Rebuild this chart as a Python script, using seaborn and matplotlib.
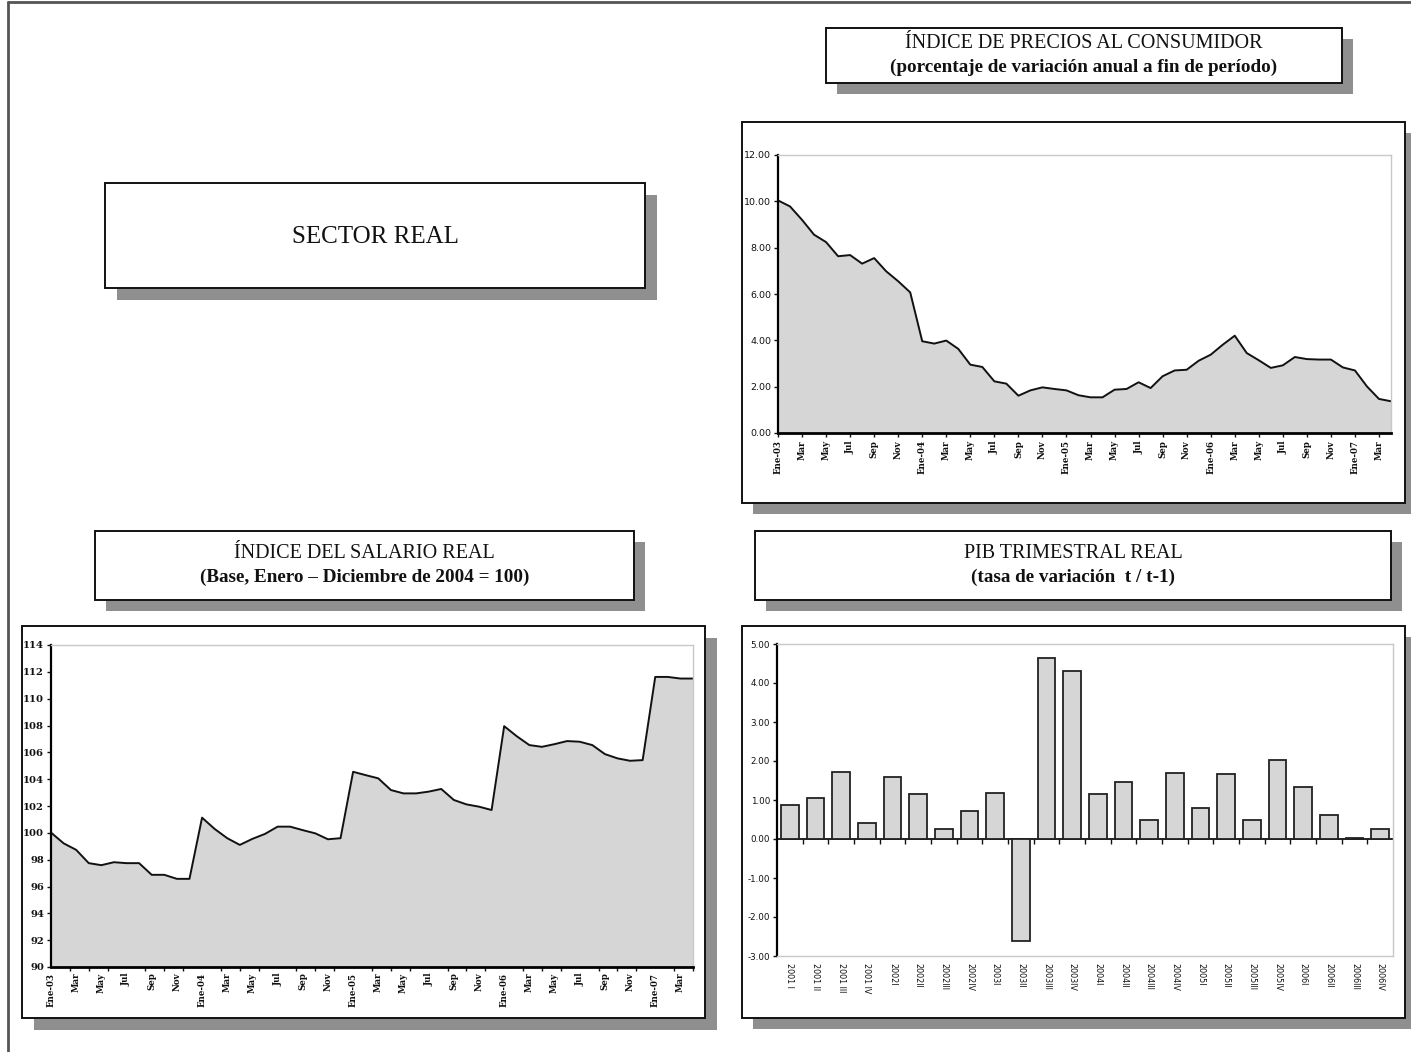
import numpy as np
import pandas as pd
import matplotlib
matplotlib.use("Agg")
import matplotlib.pyplot as plt
from matplotlib.patches import Rectangle
from matplotlib.lines import Line2D
from matplotlib.ticker import FormatStrFormatter
import seaborn as sns

W, H = 1411, 1052

# Monthly series, Jan 2003 - Apr 2007
ipc_variacion = [
    10.04, 9.78, 9.20, 8.56, 8.24, 7.63, 7.68, 7.31, 7.55, 6.98, 6.55, 6.07,
    3.96, 3.86, 3.99, 3.63, 2.95, 2.85, 2.23, 2.13, 1.61, 1.84, 1.97, 1.90,
    1.84, 1.63, 1.54, 1.54, 1.87, 1.90, 2.19, 1.94, 2.45, 2.70, 2.73, 3.12,
    3.38, 3.81, 4.20, 3.45, 3.14, 2.81, 2.92, 3.28, 3.19, 3.17, 3.17, 2.83,
    2.70, 2.01, 1.47, 1.37,
]
salario_real = [
    100.02, 99.22, 98.73, 97.74, 97.59, 97.81, 97.74, 97.74, 96.87, 96.87, 96.57, 96.57,
    101.13, 100.29, 99.60, 99.10, 99.55, 99.92, 100.46, 100.46, 100.20, 99.96, 99.52, 99.60,
    104.55, 104.30, 104.06, 103.19, 102.94, 102.94, 103.07, 103.27, 102.45, 102.12, 101.95, 101.70,
    107.95, 107.20, 106.54, 106.41, 106.61, 106.84, 106.79, 106.54, 105.87, 105.55, 105.37, 105.42,
    111.62, 111.62, 111.50, 111.50,
]
meses = ["Ene", "Feb", "Mar", "Abr", "May", "Jun", "Jul", "Ago", "Sep", "Oct", "Nov", "Dic"]
anio_inicial = 2003

# Quarterly real GDP, t / t-1
pib_trimestres = [
    "2001 I", "2001 II", "2001 III", "2001 IV", "2002I", "2002II", "2002III", "2002IV",
    "2003I", "2003II", "2003III", "2003IV", "2004I", "2004II", "2004III", "2004IV",
    "2005I", "2005II", "2005III", "2005IV", "2006I", "2006II", "2006III", "2006IV",
]
pib_variacion = [
    0.86, 1.05, 1.73, 0.40, 1.58, 1.15, 0.25, 0.72, 1.19, -2.62, 4.65, 4.30,
    1.16, 1.45, 0.50, 1.70, 0.80, 1.66, 0.50, 2.02, 1.33, 0.62, 0.03, 0.25,
]

titulo_portada = "SECTOR REAL"
titulo_ipc = ("ÍNDICE DE PRECIOS AL CONSUMIDOR", "(porcentaje de variación anual a fin de período)")
titulo_salario = ("ÍNDICE DEL SALARIO REAL", "(Base, Enero \u2013 Diciembre de 2004 = 100)")
titulo_pib = ("PIB TRIMESTRAL REAL", "(tasa de variación  t / t-1)")

FILL = "#d6d6d6"
SHADOW = "#8f8f8f"
LIGHT = "#c8c8c8"
SERIF = "Liberation Serif"

sns.set_theme(style="ticks")
plt.rcParams["font.family"] = ["DejaVu Sans"]

fig = plt.figure(figsize=(W / 100, H / 100), dpi=100)
fig.patch.set_facecolor("white")


def fig_rect(x0, y0, x1, y1):
    return (x0 / W, 1 - y1 / H), (x1 - x0) / W, (y1 - y0) / H


def framed_box(x0, y0, x1, y1, off=12, lw=1.4):
    (bx, by), bw, bh = fig_rect(x0 + off, y0 + off, x1 + off, y1 + off)
    fig.add_artist(Rectangle((bx, by), bw, bh, transform=fig.transFigure,
                             facecolor=SHADOW, edgecolor="none", zorder=-3))
    (bx, by), bw, bh = fig_rect(x0, y0, x1, y1)
    fig.add_artist(Rectangle((bx, by), bw, bh, transform=fig.transFigure,
                             facecolor="white", edgecolor="#111111", lw=lw, zorder=-2))


def title_box(x0, y0, x1, y1, lines):
    framed_box(x0, y0, x1, y1, off=11)
    cx = (x0 + x1) / 2 / W
    cy = 1 - (y0 + y1) / 2 / H
    fig.text(cx, cy + 11.5 / H, lines[0], ha="center", va="center",
             family=SERIF, fontsize=14.5, color="#111111")
    fig.text(cx, cy - 11.5 / H, lines[1], ha="center", va="center",
             family=SERIF, fontsize=13.8, fontweight="bold", color="#111111")


def make_axes(left, top, right, bottom):
    ax = fig.add_axes([left / W, 1 - bottom / H, (right - left) / W, (bottom - top) / H])
    ax.set_zorder(1)
    ax.set_facecolor("white")
    return ax


def month_ticks(n):
    pos = list(range(0, n, 2))
    labels = []
    for i in pos:
        m = i % 12
        if m == 0:
            labels.append(f"{meses[m]}-{(anio_inicial + i // 12) % 100:02d}")
        else:
            labels.append(meses[m])
    return pos, labels


def style_spines(ax, bottom_dark=True):
    ax.spines["left"].set_color("black")
    ax.spines["left"].set_linewidth(1.6)
    ax.spines["bottom"].set_color("black" if bottom_dark else LIGHT)
    ax.spines["bottom"].set_linewidth(2.0 if bottom_dark else 1.0)
    for s in ("top", "right"):
        ax.spines[s].set_visible(True)
        ax.spines[s].set_color(LIGHT)
        ax.spines[s].set_linewidth(1.0)


# outer page frame
fig.add_artist(Line2D([8 / W, 8 / W], [0, 1 - 2 / H], transform=fig.transFigure,
                      color="#555555", lw=2, zorder=-4))
fig.add_artist(Line2D([8 / W, 1], [1 - 2 / H, 1 - 2 / H], transform=fig.transFigure,
                      color="#555555", lw=2, zorder=-4))

# section title
framed_box(105, 183, 645, 288)
fig.text((105 + 645) / 2 / W, 1 - 237 / H, titulo_portada, ha="center", va="center",
         family=SERIF, fontsize=18, color="#111111")

# ---------------- CPI ----------------
title_box(826, 28, 1342, 83, titulo_ipc)
framed_box(742, 122, 1405, 503, off=11)
ax1 = make_axes(778, 155, 1391, 433)
mes_idx = np.arange(len(ipc_variacion))
df_ipc = pd.DataFrame({"mes": mes_idx, "ipc": ipc_variacion})
ax1.fill_between(df_ipc["mes"], df_ipc["ipc"], 0, color=FILL, lw=0)
sns.lineplot(data=df_ipc, x="mes", y="ipc", ax=ax1, color="#111111", lw=1.4)
ax1.set_xlim(0, len(ipc_variacion) - 1)
ax1.set_ylim(0, 12)
ax1.set_yticks(np.arange(0, 12.01, 2))
ax1.yaxis.set_major_formatter(FormatStrFormatter("%.2f"))
pos, labs = month_ticks(len(ipc_variacion))
ax1.set_xticks(pos)
ax1.set_xticklabels(labs, rotation=90, family="DejaVu Serif", fontweight="bold", fontsize=6.2)
ax1.tick_params(axis="y", labelsize=6.8, length=3, width=1, pad=2, colors="#111111")
ax1.tick_params(axis="x", length=3, width=1, pad=2, colors="#111111")
ax1.set_xlabel("")
ax1.set_ylabel("")
style_spines(ax1)

# ---------------- Real wage ----------------
title_box(95, 531, 634, 600, titulo_salario)
framed_box(22, 626, 705, 1018, off=12)
ax2 = make_axes(51, 645, 693, 967)
df_sal = pd.DataFrame({"mes": np.arange(len(salario_real)), "salario": salario_real})
ax2.fill_between(df_sal["mes"], df_sal["salario"], 90, color=FILL, lw=0)
sns.lineplot(data=df_sal, x="mes", y="salario", ax=ax2, color="#111111", lw=1.4)
ax2.set_xlim(0, len(salario_real) - 1)
ax2.set_ylim(90, 114)
ax2.set_yticks(np.arange(90, 114.1, 2))
ax2.yaxis.set_major_formatter(FormatStrFormatter("%d"))
pos, labs = month_ticks(len(salario_real))
ax2.set_xticks(pos)
ax2.set_xticklabels(labs, rotation=90, family="DejaVu Serif", fontweight="bold", fontsize=6.2)
ax2.set_xticks(np.arange(0, len(salario_real), 1.5), minor=True)
for lab in ax2.get_yticklabels():
    lab.set_family("DejaVu Serif")
    lab.set_fontweight("bold")
ax2.tick_params(axis="y", labelsize=7.2, length=3, width=1, pad=2, colors="#111111")
ax2.tick_params(axis="x", which="major", length=0, pad=4, colors="#111111")
ax2.tick_params(axis="x", which="minor", length=3, width=1, colors="#111111")
ax2.set_xlabel("")
ax2.set_ylabel("")
style_spines(ax2)

# ---------------- Quarterly GDP ----------------
title_box(755, 531, 1391, 600, titulo_pib)
framed_box(742, 626, 1405, 1018, off=11)
ax3 = make_axes(777, 644, 1393, 956)
df_pib = pd.DataFrame({"trimestre": pib_trimestres, "variacion": pib_variacion})
sns.barplot(data=df_pib, x="trimestre", y="variacion", ax=ax3, color=FILL,
            saturation=1, edgecolor="#222222", linewidth=1.3, width=0.7)
ax3.set_xlim(-0.5, len(pib_trimestres) - 0.5)
ymin, ymax = -3, 5
ax3.set_ylim(ymin, ymax)
ax3.set_yticks(np.arange(ymin, ymax + 0.01, 1))
ax3.yaxis.set_major_formatter(FormatStrFormatter("%.2f"))
ax3.set_xticks(range(len(pib_trimestres)))
ax3.set_xticklabels(pib_trimestres, rotation=-90, fontsize=5.8, va="top")
ax3.tick_params(axis="x", length=0, pad=5, colors="#111111")
ax3.tick_params(axis="y", labelsize=6.3, length=3, width=1, pad=2, colors="#111111")
ax3.set_xlabel("")
ax3.set_ylabel("")
style_spines(ax3, bottom_dark=False)
# zero axis with category separators
zero_frac = (0 - ymin) / (ymax - ymin)
ax_zero = ax3.secondary_xaxis(zero_frac)
ax_zero.set_xticks(np.arange(0.5, len(pib_trimestres) - 0.5, 1))
ax_zero.set_xticklabels([])
ax_zero.tick_params(axis="x", length=3.5, width=1, direction="out", colors="#111111")
ax_zero.spines["bottom"].set_color("#111111")
ax_zero.spines["bottom"].set_linewidth(1.3)

fig.savefig("out.png", dpi=100, facecolor="white")
